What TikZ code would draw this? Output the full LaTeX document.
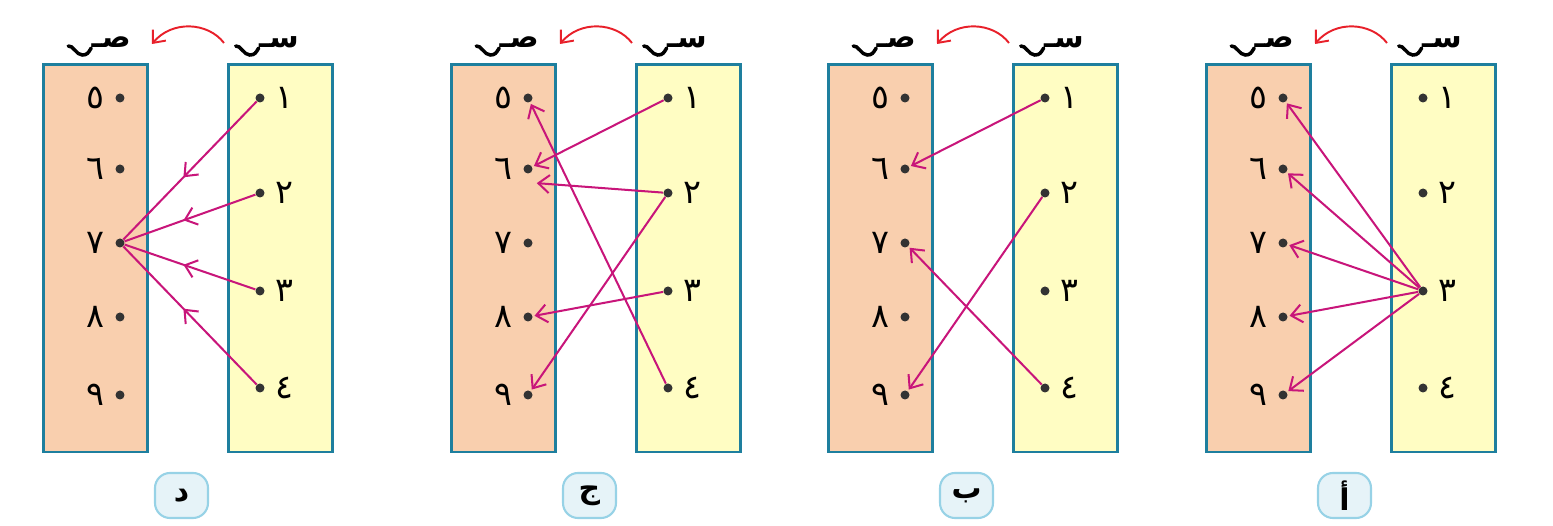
\documentclass[tikz,border=0pt]{standalone}
\usepackage{fontspec}
\usetikzlibrary{arrows.meta,decorations.markings,calc}
\TeXXeTstate=1
\newfontfamily\arabicfont[Script=Arabic]{DejaVu Sans}

\definecolor{setborder}{HTML}{1E7F9E}
\definecolor{yfill}{HTML}{F9CFAE}
\definecolor{xfill}{HTML}{FFFDC3}
\definecolor{maplink}{HTML}{C8157A}
\definecolor{tagfill}{HTML}{E6F3F8}
\definecolor{tagline}{HTML}{97D2E6}
\definecolor{dotcol}{HTML}{333333}
\definecolor{swapcol}{HTML}{E8202A}

\tikzset{
  setbox/.style={draw=setborder, line width=1.6pt},
  dot/.style={circle, fill=dotcol, inner sep=0pt, minimum size=0.18cm},
  num/.style={font=\arabicfont\fontsize{19}{22}\selectfont, inner sep=0pt, label distance=0.2cm},
  setname/.style={font=\arabicfont\bfseries\fontsize{17}{20}\selectfont, inner sep=0pt, anchor=base east},
  tildeline/.style={line width=2pt, line cap=round},
  link/.style={draw=maplink, line width=1.15pt, -{Straight Barb[length=0.22cm,width=0.36cm]}, shorten >=1pt},
  midlink/.style={draw=maplink, line width=1.15pt, postaction={decorate},
    decoration={markings, mark=at position 0.55 with {\arrow{Straight Barb[length=0.22cm,width=0.36cm]}}}},
  tag/.style={draw=tagline, fill=tagfill, line width=1.2pt, rounded corners=0.3cm,
    minimum width=1.06cm, minimum height=0.9cm, font=\arabicfont\bfseries\fontsize{17}{19}\selectfont},
  swaparrow/.style={draw=swapcol, line width=1.1pt, -{Straight Barb[length=0.2cm,width=0.34cm]}}
}

\begin{document}
\begin{tikzpicture}[x=0.02cm,y=-0.02cm]
  \useasboundingbox (0,0) rectangle (1553,526);

  % four panels: left box is the set ص, right box the set س
  \foreach \ox/\p/\t in {42/d/د, 450/c/ج, 827/b/ب, 1205/a/أ}{
    \draw[setbox, fill=yfill] (\ox+1.5,64.5) rectangle (\ox+105.5,452);
    \draw[setbox, fill=xfill] (\ox+186.5,64.5) rectangle (\ox+290.5,452);
    \node[setname] (\p Y) at (\ox+89,48) {\beginR صـ\endR};
    \node[setname] (\p X) at (\ox+257,48) {\beginR سـ\endR};
    \foreach \s in {Y,X}
      \draw[tildeline] (\p\s.base west) .. controls +(-3,5) and +(5,0) .. ++(-9,7)
        .. controls +(-6,0) and +(5,-1) .. ++(-14,-9);
    \coordinate (\p from) at (\ox+182,43);
    \coordinate (\p to) at (\ox+110,44);
    \draw[swaparrow] (\p from) .. controls (\ox+166,22) and (\ox+130,20) .. (\p to);
    % elements
    \foreach \n/\y/\s in {5/98/٥, 6/169/٦, 7/243/٧, 8/317/٨, 9/395/٩}
      \node[dot, label={[num]left:\s}] (\p\n) at (\ox+78,\y) {};
    \foreach \n/\y/\s in {1/98/١, 2/193/٢, 3/291/٣, 4/388/٤}
      \node[dot, label={[num]right:\s}] (\p\n) at (\ox+218,\y) {};
    \node[tag] (\p tag) at (\ox+139.5,495.5) {\beginR\t\endR};
  }

  % panel d
  \foreach \s in {1,...,4}
    \draw[midlink] (d\s) -- (d7);

  % panel c
  \draw[link] (c1) -- (c6);
  \draw[link] (c2) -- ($(c6)+(7,14)$);
  \draw[link] (c2) -- (c9);
  \draw[link] (c3) -- (c8);
  \draw[link] (c4) -- (c5);

  % panel b
  \draw[link] (b1) -- (b6);
  \draw[link] (b2) -- (b9);
  \draw[link] (b4) -- (b7);

  % panel a
  \foreach \t in {5,...,9}
    \draw[link] (a3) -- (a\t);
\end{tikzpicture}
\end{document}
